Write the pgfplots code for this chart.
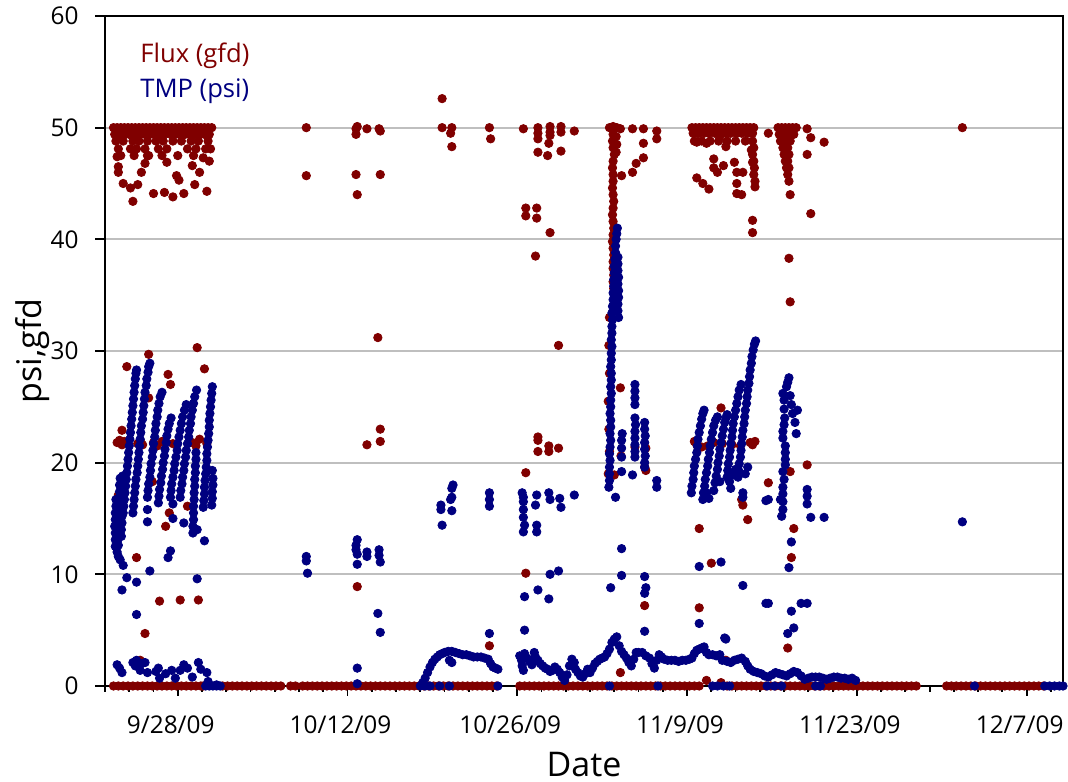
\documentclass[border=0pt]{standalone}
\usepackage{fontspec}
\setmainfont{Open Sans}
\usepackage{pgfplots}
\pgfplotsset{compat=1.18}
\definecolor{fluxred}{RGB}{128,0,0}
\definecolor{tmpblue}{RGB}{0,0,128}
\pgfplotsset{
  flux/.style={only marks, mark=*, mark size=2.1pt, color=fluxred, mark options={draw=none}},
  tmp/.style={only marks, mark=*, mark size=2.1pt, color=tmpblue, mark options={draw=none}},
}
\begin{document}
\begin{tikzpicture}
\begin{axis}[
  scale only axis, width=479pt, height=335pt,
  xmin=0, xmax=79, ymin=0, ymax=60,
  xtick={6,20,34,48,62,76},
  xticklabels={9/28/09,10/12/09,10/26/09,11/9/09,11/23/09,12/7/09},
  minor xtick={0,2,...,78},
  ytick={0,10,...,60},
  xtick pos=bottom, ytick pos=left,
  tick align=outside,
  major tick length=5pt, minor tick length=3pt,
  ymajorgrids, grid style={draw=black!25, line width=1pt},
  axis line style={line width=0.9pt},
  every tick/.style={black, line width=0.9pt},
  tick label style={font=\fontsize{12.2}{14}\selectfont, inner sep=0pt},
  xticklabel style={anchor=north, yshift=-9.7pt, xshift=-3.5pt},
  yticklabel style={anchor=east, xshift=-8pt},
  /pgf/number format/assume math mode=true,
  xlabel={Date}, ylabel={psi,gfd},
  label style={font=\fontsize{17}{20}\selectfont, inner sep=0pt},
  xlabel style={at={(axis description cs:0.5,-0.135)}, anchor=base},
  ylabel style={at={(axis description cs:-0.0658,0.5)}, anchor=base},
  clip=false,
]

% Flux (gfd): readings at zero
\addplot[flux] coordinates {
(0.7,0)(1.1,0)(1.5,0)(1.9,0)(2.3,0)(2.7,0)(3.1,0)(3.5,0)(3.9,0)(4.3,0)(4.7,0)(5.1,0)(5.5,0)(5.9,0)(6.3,0)(6.7,0)(7.1,0)(7.5,0)(7.9,0)(8.1,0)
(9.7,0)(10.1,0)(10.5,0)(10.9,0)(11.3,0)(11.7,0)(12.1,0)(12.5,0)(12.9,0)(13.3,0)(13.7,0)(14.1,0)(14.5,0)(15.3,0)(15.7,0)
(16.3,0)(16.7,0)(17.1,0)(17.5,0)(17.9,0)(18.3,0)(18.7,0)(19.1,0)(19.5,0)(19.9,0)(20.3,0)(20.7,0)(21.1,0)(21.5,0)(21.9,0)(22.3,0)(22.7,0)(23.1,0)(23.5,0)(23.9,0)(24.3,0)(24.7,0)(25.1,0)(25.5,0)(25.9,0)(26.3,0)(26.7,0)(27.1,0)(27.5,0)(27.9,0)(28.3,0)(28.7,0)(29.1,0)(29.5,0)(29.9,0)(30.3,0)(30.7,0)(31.1,0)(31.5,0)(31.9,0)(32.3,0)
(34.2,0)(34.6,0)(35.0,0)(35.4,0)(35.8,0)(36.2,0)(36.6,0)(37.0,0)(37.4,0)(37.8,0)(38.2,0)(38.6,0)(39.0,0)(39.4,0)(39.8,0)(40.2,0)(40.6,0)(41.0,0)(41.4,0)(41.8,0)(42.2,0)(42.6,0)(43.0,0)(43.4,0)(43.8,0)(44.2,0)(44.6,0)(45.0,0)(45.4,0)(45.8,0)(46.2,0)(46.6,0)(47.0,0)(47.4,0)(47.8,0)(48.2,0)(48.6,0)(49.0,0)
(51.3,0)(51.7,0)(52.1,0)(52.5,0)(52.9,0)(53.3,0)(53.7,0)(54.1,0)(54.5,0)(54.9,0)(55.3,0)(55.7,0)(56.1,0)(56.5,0)(56.9,0)(57.3,0)(57.7,0)(58.1,0)(58.5,0)(58.9,0)(59.3,0)(59.7,0)(60.1,0)(60.5,0)(60.9,0)(61.3,0)(61.7,0)(62.1,0)(62.5,0)(62.9,0)(63.3,0)(63.7,0)(64.1,0)(64.5,0)(64.9,0)(65.3,0)(65.7,0)(66.1,0)(66.5,0)(66.9,0)
(69.4,0)(69.8,0)(70.2,0)(70.6,0)(71.0,0)(71.4,0)(71.8,0)(72.2,0)(72.6,0)(73.0,0)(73.4,0)(73.8,0)(74.2,0)(74.6,0)(75.0,0)(75.4,0)(75.8,0)(76.2,0)(76.6,0)(77.0,0)(77.4,0)
};

% Flux (gfd): 9/22 - 10/1
\addplot[flux] coordinates {
(0.7,50)(1.0,50)(1.3,50)(1.6,50)(1.9,50)(2.2,50)(2.5,50)(2.8,50)(3.1,50)(3.4,50)(3.7,50)(4.0,50)(4.3,50)(4.6,50)(4.9,50)(5.2,50)(5.5,50)(5.8,50)(6.1,50)(6.4,50)(6.7,50)(7.0,50)(7.3,50)(7.6,50)(7.9,50)(8.2,50)(8.5,50)(8.8,50)
(0.8,49.4)(1.2,49.4)(1.6,49.4)(2.0,49.4)(2.4,49.4)(2.9,49.4)(3.3,49.4)(3.7,49.4)(4.1,49.4)(4.5,49.4)(4.9,49.4)(5.4,49.4)(5.8,49.4)(6.2,49.4)(6.6,49.4)(7.0,49.4)(7.4,49.4)(7.8,49.4)(8.2,49.4)(8.6,49.4)
(0.9,48.8)(1.5,48.8)(2.3,48.8)(2.8,48.8)(3.5,48.8)(4.2,48.8)(4.8,48.8)(5.6,48.8)(6.3,48.8)(7.1,48.8)(7.7,48.8)(8.5,48.8)
(1.1,48.1)(2.1,48.1)(2.6,48.1)(3.3,48.1)(4.4,48.1)(5.1,48.1)(6.8,48.1)(7.5,48.1)(8.3,48.1)(8.7,48.1)
(1.3,47.5)(2.4,47.5)(3.6,47.5)(4.7,47.5)(6.0,47.5)(7.3,47.5)
(1.0,47.4)(1.1,46.5)(1.1,46.0)(1.5,45.0)(2.1,44.6)(2.7,44.9)(2.3,43.4)(3.0,46.0)(4.0,44.1)(4.9,44.2)(5.6,43.8)(6.5,44.1)(7.4,44.9)(8.4,44.3)(5.9,45.7)(6.1,45.3)(7.2,46.6)(7.8,46.0)(8.1,47.3)(8.6,47.0)(5.1,46.9)(3.3,46.8)(3.5,47.5)
(1.0,21.8)(1.2,22.0)(1.4,21.6)(1.6,21.9)(1.4,22.9)(2.7,21.7)(2.9,22.0)(3.1,21.6)(4.0,21.8)(4.3,21.5)(4.7,21.9)(5.6,21.7)(7.2,21.8)(7.5,21.5)(7.8,22.1)(8.4,21.7)
(1.8,28.6)(3.6,29.7)(5.2,27.9)(5.4,27.0)(3.6,25.8)(7.6,30.3)(8.2,28.4)(3.9,18.3)(6.8,16.1)(5.3,15.5)(5.0,14.3)(2.6,11.5)(3.3,4.7)(4.5,7.6)(6.2,7.7)(7.7,7.7)(1.1,17.1)(2.9,2.3)
};

% Flux (gfd): 10/8 - 11/8
\addplot[flux] coordinates {
(16.6,50.0)(16.6,45.7)(20.7,49.9)(20.7,49.4)(20.8,50.1)(21.6,49.9)(22.6,49.9)(22.7,49.7)(20.7,45.8)(20.8,44.0)(22.7,45.8)(22.5,31.2)(22.7,23.0)(21.6,21.6)(22.7,21.9)(20.8,8.9)
(27.8,52.6)(27.8,50.0)(28.6,50.0)(28.5,49.5)(28.6,48.3)(31.7,50.0)(31.8,49.0)(31.7,3.6)
(34.5,49.9)(35.7,50.0)(35.7,49.5)(35.7,49.0)(36.7,50.1)(36.7,49.6)(36.7,49.3)(37.6,50.1)(37.6,49.6)(38.7,49.7)(36.6,48.6)(35.7,47.8)(36.5,47.5)(37.6,47.9)
(34.7,42.8)(34.7,42.1)(35.6,42.8)(35.6,41.9)(36.7,40.6)(35.5,38.5)(37.4,30.5)(35.7,22.3)(35.7,22.0)(35.7,21.0)(36.6,21.5)(36.6,21.0)(37.4,21.3)(34.7,19.1)(34.7,10.1)
(41.6,50.0)(41.9,50.1)(42.2,50.0)(42.5,49.9)(43.5,49.9)(44.4,49.9)(45.5,49.7)(44.4,48.6)(45.5,49.0)(43.8,46.8)(43.5,46.0)(44.4,47.3)(42.6,45.7)
(41.9,49.4)(41.85,48.8)(41.9,48.2)(42.0,47.6)(41.9,47.0)(41.85,46.4)(41.9,45.8)(41.9,45.2)(41.85,44.6)(41.9,44.0)(41.95,43.4)(41.9,42.8)(41.85,42.2)(41.9,41.6)(41.95,41.0)(41.9,40.4)(41.85,39.8)(41.9,39.2)(41.95,38.6)(41.9,38.0)(41.9,37.4)(41.95,36.8)(41.9,36.2)(41.95,35.6)(42.0,35.2)
(42.15,49.2)(42.2,48.5)(42.15,47.8)
(41.6,33.0)(41.55,30.5)(41.6,28.0)(41.5,25.5)(41.55,23.0)(41.6,21.0)(41.5,19.0)(42.5,26.7)(42.55,20.6)(42.0,18.9)(43.7,21.4)(44.6,21.3)(44.5,19.6)(44.6,19.3)(44.5,7.2)(42.5,1.2)
};

% Flux (gfd): 11/9 - 12/10
\addplot[flux] coordinates {
(48.4,50)(48.7,50)(49.0,50)(49.3,50)(49.6,50)(49.9,50)(50.2,50)(50.5,50)(50.8,50)(51.1,50)(51.4,50)(51.7,50)(52.0,50)(52.3,50)(52.6,50)(52.9,50)(53.2,50)(53.5,50)
(48.5,49.5)(48.9,49.5)(49.4,49.5)(49.8,49.5)(50.3,49.5)(50.7,49.5)(51.2,49.5)(51.6,49.5)(52.1,49.5)(52.5,49.5)(53.0,49.5)(53.4,49.5)
(48.6,48.8)(49.2,48.8)(49.9,48.8)(50.6,48.8)(51.3,48.8)(52.0,48.8)(52.8,48.8)(53.4,48.8)
(53.5,48.2)(53.4,47.6)(53.5,47.0)(53.55,46.4)(53.5,45.8)(53.6,45.2)(53.6,44.7)(53.3,48.0)(53.4,46.9)(53.4,41.7)(53.4,40.6)
(48.8,45.5)(49.3,45.0)(49.8,44.5)(50.2,47.2)(50.2,46.4)(50.5,46.0)(51.0,46.6)(51.9,46.9)(52.1,46.0)(52.6,46.0)(52.1,45.0)(52.1,44.1)(52.5,44.0)(48.8,48.7)(49.6,48.6)(51.2,48.3)(50.7,49.2)(48.9,49.5)
(48.8,21.6)(49.7,21.5)(50.9,21.7)(51.7,21.6)(53.4,21.6)(48.6,21.9)(49.2,21.4)(50.2,21.8)(52.4,21.5)(53.2,21.8)(53.6,21.9)
(50.8,24.9)(49.0,14.1)(50.0,11.0)(52.5,16.7)(52.6,16.2)(53.0,14.9)(49.0,7.0)(51.2,2.3)(49.6,0.5)(50.8,0.3)
(54.7,49.5)(57.9,49.9)(58.2,49.1)(59.3,48.7)(57.9,47.6)(56.5,44.0)(58.2,42.3)(56.4,38.3)(56.5,34.4)(57.9,19.8)(54.7,18.2)(56.5,19.2)(56.8,14.1)(56.6,11.5)(56.3,3.4)
(55.5,50)(55.8,50)(56.1,50)(56.4,50)(56.7,50)(57.0,50)(55.6,49.4)(56.0,49.4)(56.4,49.4)(56.8,49.4)(55.7,48.8)(56.1,48.8)(56.5,48.8)(55.9,48.2)(56.3,48.2)(56.0,47.6)(56.4,47.6)(56.1,47.0)(56.3,47.0)(56.2,46.4)(56.4,46.4)(56.3,45.8)(56.4,45.2)
(70.7,50.0)
};

% TMP (psi): 9/22 - 10/1
\addplot[tmp] coordinates {
(1.2,1.6)(1.4,1.2)(1.0,1.9)(2.3,2.1)(2.6,2.3)(2.5,1.8)(2.9,1.4)(3.0,2.0)(3.3,2.1)(3.5,1.2)(4.2,1.3)(4.4,1.6)(4.5,0.7)(5.0,1.1)(5.5,1.4)(5.8,0.7)(6.2,1.4)(6.5,1.9)(6.8,1.6)(7.2,0.8)(7.7,2.1)(7.9,1.5)(8.4,1.2)(8.5,0.4)(9.2,0.1)
(8.3,0)(8.6,0)(8.9,0)(9.2,0)(9.5,0)
(1.5,10.8)(1.8,9.7)(1.4,8.6)(2.6,9.3)(2.6,6.4)(3.7,10.3)(3.5,14.7)(3.5,15.8)(5.6,15.0)(5.6,16.3)(6.5,14.6)(5.4,12.1)(5.2,11.5)(8.2,13.0)(7.6,9.6)(7.6,14.0)
(0.85,12.5)(0.85,13.1)(0.85,13.7)(0.8,14.3)(0.85,14.9)(0.85,15.5)(0.9,16.1)(0.9,16.7)(1.0,12.0)(1.1,12.6)(1.1,13.2)(1.1,13.8)(1.15,14.4)(1.1,15.0)(1.15,15.6)(1.15,16.2)(1.2,16.8)(1.2,17.4)(1.2,18.0)(1.25,18.6)(1.35,13.4)(1.35,14.0)(1.4,14.6)(1.4,15.2)(1.4,15.8)(1.35,16.4)(1.4,17.0)(1.4,17.6)(1.45,18.2)(1.45,18.8)(1.1,11.6)(1.25,11.3)
(1.50,15.5)(1.55,16.1)(1.60,16.7)(1.65,17.3)(1.70,17.9)(1.75,18.5)(1.80,19.1)(1.85,19.7)(1.90,20.3)(1.95,20.9)(2.00,21.5)(2.05,22.1)(2.10,22.7)(2.15,23.3)(2.20,23.9)(2.25,24.5)(2.30,25.1)(2.35,25.7)(2.40,26.3)(2.45,26.9)(2.50,27.5)(2.55,28.0)(2.60,28.3)
(2.3,15.5)(2.35,16.1)(2.4,16.7)(2.45,17.3)(2.5,17.9)(2.55,18.5)(2.65,19.1)(2.7,19.7)(2.75,20.3)(2.8,20.9)(2.85,21.5)(2.9,22.1)(2.95,22.7)(3.0,23.3)(3.1,23.9)(3.15,24.5)(3.2,25.1)(3.25,25.7)(3.3,26.3)(3.4,26.9)(3.45,27.5)(3.55,28.1)(3.6,28.6)(3.7,28.9)
(3.5,16.9)(3.55,17.5)(3.6,18.1)(3.7,18.7)(3.75,19.3)(3.8,19.9)(3.9,20.5)(3.95,21.1)(4.0,21.7)(4.1,22.3)(4.15,22.9)(4.2,23.5)(4.3,24.1)(4.35,24.7)(4.45,25.3)(4.55,25.9)(4.7,26.3)
(4.4,16.4)(4.45,17.0)(4.5,17.6)(4.6,18.2)(4.65,18.8)(4.75,19.4)(4.8,20.0)(4.9,20.6)(4.95,21.2)(5.05,21.8)(5.1,22.4)(5.2,23.0)(5.3,23.5)(5.45,24.0)
(5.4,16.9)(5.45,17.5)(5.5,18.1)(5.6,18.7)(5.7,19.3)(5.75,19.9)(5.85,20.5)(5.95,21.1)(6.0,21.7)(6.1,22.3)(6.2,22.9)(6.3,23.5)(6.4,24.1)(6.55,24.7)(6.7,25.2)
(6.2,16.9)(6.25,17.5)(6.35,18.1)(6.4,18.7)(6.5,19.3)(6.55,19.9)(6.65,20.5)(6.7,21.1)(6.8,21.7)(6.9,22.3)(6.95,22.9)(7.05,23.5)(7.1,24.1)(7.2,24.7)(7.3,25.3)(7.4,25.9)(7.55,26.5)
(7.25,13.7)(7.25,14.3)(7.3,14.9)(7.3,15.5)(7.3,16.1)(7.35,16.7)(7.35,17.3)(7.4,17.9)(7.4,18.5)(7.45,19.1)(7.45,19.7)(7.5,20.3)(7.5,20.9)
(8.1,16.0)(8.15,16.6)(8.2,17.2)(8.2,17.8)(8.25,18.4)(8.3,19.0)(8.35,19.6)(8.4,20.2)(8.4,20.8)(8.45,21.4)(8.5,22.0)(8.55,22.6)(8.6,23.2)(8.6,23.8)(8.65,24.4)(8.7,25.0)(8.75,25.6)(8.8,26.2)(8.85,26.8)
(8.8,16.2)(8.85,16.8)(8.85,17.4)(8.9,18.0)(8.9,18.6)(8.85,19.3)
};

% TMP (psi): 10/8 - 11/8
\addplot[tmp] coordinates {
(16.6,11.6)(16.6,11.2)(16.7,10.1)(20.8,13.1)(20.7,12.6)(20.7,12.2)(20.8,11.8)(20.8,10.9)(21.6,12.0)(21.6,11.6)(22.6,12.2)(22.6,11.7)(22.7,11.1)(22.5,6.5)(22.7,4.8)(20.8,1.6)(20.8,0.2)
(27.7,16.2)(27.7,15.8)(27.8,14.4)(28.6,17.7)(28.6,16.9)(28.5,16.7)(28.6,15.7)(28.7,18.0)(31.7,17.3)(31.7,16.7)(31.7,16.1)(31.7,4.7)
(26.0,0.0)(26.2,0.3)(26.4,0.7)(26.6,1.2)(26.8,1.7)(27.0,2.1)(27.2,2.4)(27.4,2.6)(27.6,2.8)(27.8,2.9)(28.0,3.0)(28.3,3.1)(28.6,3.1)(28.9,3.0)(29.2,2.9)(29.5,2.8)(29.8,2.8)(30.1,2.7)(30.4,2.6)(30.7,2.6)(31.0,2.6)(31.3,2.5)(31.6,2.4)(31.8,2.0)(32.0,1.7)(32.2,1.6)(32.4,1.5)(28.6,2.1)(28.4,2.3)
(26.4,0)(26.8,0)(27.6,0)(28.4,0)(32.4,0)
(34.4,17.3)(34.5,16.9)(34.5,16.5)(34.5,15.8)(34.5,15.1)(34.6,14.4)(34.5,13.8)(35.6,17.1)(35.5,16.2)(35.6,14.4)(35.6,13.8)(36.6,17.3)(36.7,16.7)(37.5,16.8)(37.6,16.0)(38.7,17.1)(36.7,10.0)(37.4,10.3)(34.6,8.0)(35.7,8.6)(36.6,7.8)(34.6,5.0)
(34.2,2.7)(34.35,2.3)(34.4,1.8)(34.5,1.4)(34.6,2.9)(34.8,2.5)(35.0,2.2)(35.2,1.9)(35.4,3.0)(35.5,2.6)(35.7,2.3)(35.9,2.0)(36.1,1.8)(36.3,1.6)(36.5,1.5)(36.7,1.3)(36.9,1.4)(37.1,1.7)(37.3,1.5)(37.5,1.2)(37.7,0.8)(37.9,0.5)(38.1,1.0)(38.3,1.8)(38.5,2.4)(38.7,2.1)(38.8,1.5)(39.0,1.2)(39.2,0.9)(39.4,0.8)(39.6,1.1)(39.8,1.5)(40.0,1.2)(40.2,1.6)(40.4,2.0)(40.6,2.2)(40.8,2.4)(41.0,2.5)(41.2,2.6)(41.4,2.9)
(41.55,17.8)(41.6,18.4)(41.6,19.0)(41.6,19.6)(41.65,20.2)(41.6,20.8)(41.65,21.4)(41.7,22.0)(41.65,22.6)(41.7,23.2)(41.7,23.8)(41.65,24.4)(41.7,25.0)(41.7,25.6)(41.75,26.2)(41.7,26.8)(41.75,27.4)(41.75,28.0)(41.7,28.6)(41.75,29.2)(41.75,29.8)(41.8,30.4)(41.75,31.0)(41.8,31.6)(41.8,32.2)(41.85,32.8)(41.8,33.4)(41.85,34.0)(41.9,34.6)(41.9,35.2)(41.95,35.8)(41.95,36.4)(42.0,37.0)(42.0,37.6)(42.05,38.2)(42.1,38.8)(42.1,39.4)(42.15,40.0)(42.2,40.5)(42.25,41.0)
(42.35,33.0)(42.3,33.6)(42.3,34.2)(42.35,34.8)(42.35,35.4)(42.3,36.0)(42.35,36.6)(42.3,37.2)(42.3,37.8)(42.3,38.4)
(42.6,19.2)(42.6,20.5)(42.6,21.3)(42.6,22.0)(42.65,22.6)(42.1,16.9)(42.6,12.3)(42.6,9.9)(41.7,8.8)
(43.7,27.0)(43.7,26.4)(43.7,25.8)(43.7,25.2)(43.7,24.0)(43.75,23.4)(43.7,22.8)(43.7,22.2)(43.7,21.6)(43.7,21.0)(43.7,20.5)(43.5,18.9)
(44.5,23.6)(44.5,23.0)(44.55,22.4)(44.5,21.8)(44.5,21.2)(44.55,20.6)(44.5,20.0)(44.5,19.6)(45.5,18.4)(45.5,17.8)(44.5,9.8)(44.6,8.8)(44.5,8.3)(44.5,4.9)
(41.6,3.3)(41.8,3.9)(42.0,4.2)(42.2,4.4)(42.4,3.6)(42.6,3.1)(42.8,2.8)(43.0,2.5)(43.2,2.1)(43.4,1.8)(43.6,2.4)(43.8,3.0)(44.0,3.0)(44.3,3.0)(44.6,2.7)(44.9,2.5)(45.1,2.0)(45.3,1.6)(45.5,2.3)(45.7,2.8)(45.9,2.6)(46.1,2.4)(46.4,2.3)(46.7,2.3)(47.0,2.3)(47.3,2.2)(47.6,2.3)(47.9,2.3)
(41.6,0)(45.6,0)
};

% TMP (psi): 11/9 - 12/10
\addplot[tmp] coordinates {
(48.2,2.4)(48.4,2.5)(48.6,2.9)(48.8,3.2)(49.0,3.3)(49.2,3.4)(49.4,3.5)(49.6,3.0)(49.8,2.8)(50.1,2.8)(50.4,2.7)(50.7,2.8)(50.9,2.3)(51.1,4.3)(51.3,2.2)(51.6,2.1)(51.9,2.3)(52.2,2.4)(52.5,2.5)(52.8,2.2)(53.0,1.8)(53.2,1.5)(53.5,1.3)(53.8,1.2)(54.1,1.1)(54.4,0.9)(54.7,0.8)(55.0,1.0)(55.3,1.2)(55.6,1.1)(55.9,1.0)(56.2,0.9)(56.5,1.1)(56.8,1.3)(57.1,1.2)(57.4,0.9)(57.7,0.6)(58.0,0.7)(58.3,0.8)(58.6,0.8)(58.9,0.8)(59.2,0.7)(59.5,0.6)(59.8,0.7)(60.1,0.8)(60.4,0.8)(60.7,0.7)(61.0,0.7)(61.3,0.6)(61.6,0.7)(61.9,0.5)
(48.35,17.3)(48.4,17.9)(48.5,18.5)(48.55,19.1)(48.6,19.7)(48.7,20.3)(48.8,20.9)(48.85,21.5)(48.9,22.1)(49.0,22.7)(49.1,23.3)(49.2,23.9)(49.3,24.4)(49.4,24.7)
(49.3,16.7)(49.35,17.3)(49.45,17.9)(49.5,18.5)(49.6,19.1)(49.7,19.7)(49.75,20.3)(49.85,20.9)(49.9,21.5)(50.0,22.1)(50.1,22.7)(50.2,23.3)(50.35,23.8)(50.5,24.1)
(50.3,18.2)(50.4,18.8)(50.5,19.4)(50.55,20.0)(50.65,20.6)(50.7,21.2)(50.8,21.8)(50.9,22.4)(51.0,23.0)(51.1,23.6)(51.2,24.0)(51.3,24.3)
(51.3,18.7)(51.35,19.3)(51.4,19.9)(51.5,20.5)(51.55,21.1)(51.6,21.7)(51.7,22.3)(51.75,22.9)(51.8,23.5)(51.9,24.1)(52.0,24.7)(52.1,25.3)(52.2,25.9)(52.3,26.5)(52.45,27.0)
(52.2,18.7)(52.25,19.3)(52.3,19.9)(52.4,20.5)(52.45,21.1)(52.5,21.7)(52.55,22.3)(52.6,22.9)(52.7,23.5)(52.75,24.1)(52.8,24.7)(52.9,25.3)(52.95,25.9)(53.0,26.5)(53.1,27.1)(53.15,27.7)(53.2,28.3)(53.3,28.9)(53.35,29.5)(53.45,30.1)(53.55,30.6)(53.65,30.9)
(51.5,18.3)(51.8,18.9)(52.0,19.4)(52.8,19.0)(53.0,19.6)(50.2,17.5)(49.6,17.3)(49.8,16.8)(50.7,18.3)(51.6,17.7)(52.6,17.3)(52.6,16.9)
(49.0,10.7)(50.8,11.1)(52.6,9.0)(49.0,5.6)(51.2,4.2)(54.5,7.4)(57.4,7.4)(54.5,16.6)
(56.4,27.6)(56.3,27.2)(55.9,26.2)(56.2,26.8)(56.5,26.0)(56.0,25.6)(56.6,25.2)(57.1,24.7)(56.0,24.8)(56.7,24.4)(56.05,24.0)(56.9,23.6)(57.0,22.6)(55.9,22.8)(55.9,22.2)(56.0,23.4)(56.1,21.5)(56.1,20.9)(56.1,20.3)(56.1,19.8)(55.9,19.2)(56.0,18.5)(55.9,17.8)(55.9,17.2)(55.9,16.5)(55.9,15.8)(55.7,16.7)(55.8,15.2)(54.7,16.7)(57.9,17.6)(57.9,17.0)(57.9,16.3)(58.2,15.1)(59.3,15.1)(56.6,12.9)(56.4,10.6)(54.7,7.4)(57.9,7.4)(56.6,6.7)(56.8,5.2)(56.3,4.7)
(50.1,0)(50.5,0)(51.0,0)(51.5,0)(54.6,0)(55.2,0)(55.8,0)(58.6,0)(59.0,0)
(70.7,14.7)(71.7,0)(77.5,0)(77.9,0)(78.3,0)(78.7,0)(79.0,0)
};

\node[anchor=base west, inner sep=0pt, text=fluxred, font=\fontsize{12.8}{15}\selectfont] at (axis description cs:0.0365,0.9313) {Flux (gfd)};
\node[anchor=base west, inner sep=0pt, text=tmpblue, font=\fontsize{12.8}{15}\selectfont] at (axis description cs:0.0365,0.879) {TMP (psi)};
\end{axis}
\path ([xshift=-52.5pt,yshift=-48pt]current axis.south west) rectangle ([xshift=2.5pt,yshift=8pt]current axis.north east);
\end{tikzpicture}
\end{document}
